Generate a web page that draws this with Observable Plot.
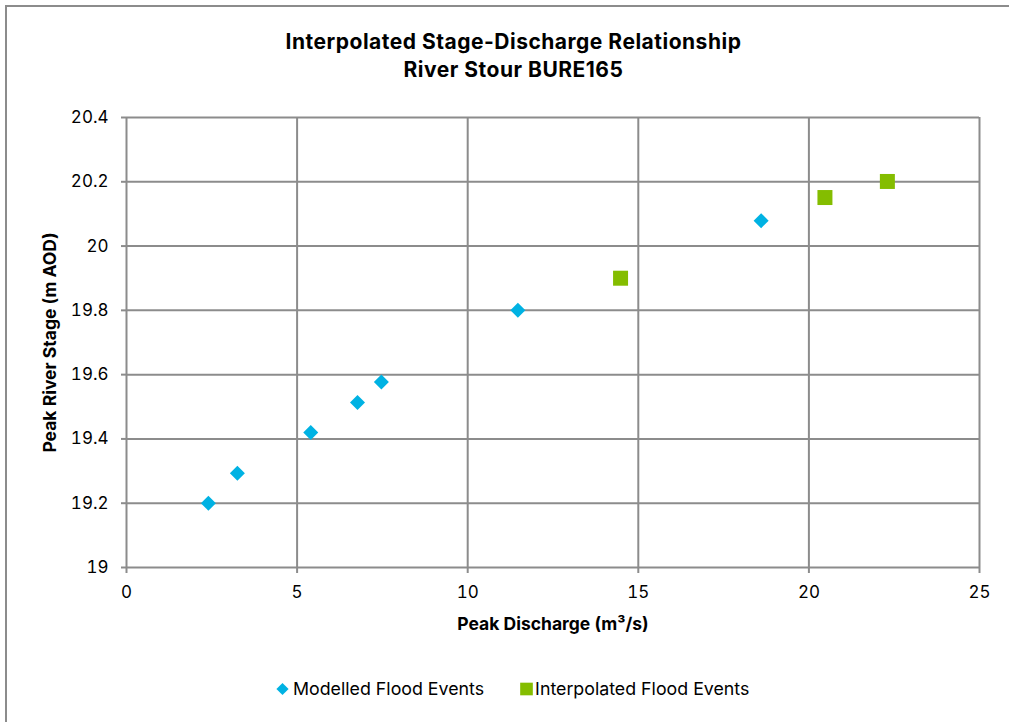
<!DOCTYPE html>
<html>
<head>
<meta charset="utf-8">
<script src="https://cdn.jsdelivr.net/npm/d3@7"></script>
<script src="https://cdn.jsdelivr.net/npm/@observablehq/plot@0.6"></script>
<style>
  html, body { margin: 0; padding: 0; background: #fff; }
  #wrap { position: relative; width: 1009px; height: 722px; overflow: hidden; font-family: Inter, "Liberation Sans", sans-serif; color: #000; }
  #border { position: absolute; left: 5px; top: 5px; width: 1040px; height: 760px; border: 2px solid #8c8c8c; box-sizing: border-box; }
  #title { position: absolute; left: 0; top: 28px; width: 1027px; text-align: center; font-weight: 700; font-size: 21px; letter-spacing: 0.5px; line-height: 28px; }
  #chart { position: absolute; left: 0; top: 0; }
  #chart svg { overflow: visible; }
  #chart g[aria-label="x-axis label"] text, #chart g[aria-label="y-axis label"] text { font-weight: 700; font-size: 17.5px; }
  #legend { position: absolute; left: 276px; top: 678px; display: flex; align-items: center; font-size: 17.8px; white-space: nowrap; }
  #legend .item { display: flex; align-items: center; }
  #legend svg { display: block; }
</style>
</head>
<body>
<div id="wrap">
  <div id="border"></div>
  <div id="title">Interpolated Stage-Discharge Relationship<br>River Stour BURE165</div>
  <div id="chart"></div>
  <div id="legend"></div>
</div>
<script>
// ---- data ----
const seriesNames = ["Modelled Flood Events", "Interpolated Flood Events"];
const modelledDischarge = [2.4, 3.25, 5.4, 6.77, 7.47, 11.47, 18.6];
const modelledStage     = [19.2, 19.293, 19.42, 19.513, 19.577, 19.8, 20.079];
const interpDischarge   = [14.48, 20.47, 22.3];
const interpStage       = [19.9, 20.151, 20.201];
const xTicks = [0, 5, 10, 15, 20, 25];
const yTicks = [19, 19.2, 19.4, 19.6, 19.8, 20, 20.2, 20.4];
const colors = ["#00b2e3", "#84bd00"];

const modelled = modelledDischarge.map((q, i) => ({q, s: modelledStage[i]}));
const interp = interpDischarge.map((q, i) => ({q, s: interpStage[i]}));

const grid = "#8c8c8c";
const chart = Plot.plot({
  width: 1009,
  height: 660,
  marginLeft: 126,
  marginRight: 30,
  marginTop: 117,
  marginBottom: 93,
  x: {domain: [0, 25]},
  y: {domain: [19, 20.4]},
  style: {fontFamily: "Inter, 'Liberation Sans', sans-serif", fontSize: "17px", color: "#000", background: "transparent"},
  marks: [
    Plot.gridX(xTicks, {stroke: grid, strokeOpacity: 1, strokeWidth: 2}),
    Plot.gridY(yTicks, {stroke: grid, strokeOpacity: 1, strokeWidth: 2}),
    Plot.axisX(xTicks, {tickSize: 6, tickPadding: 12, stroke: grid, strokeWidth: 2, tickFormat: d => String(d),
      label: "Peak Discharge (m³/s)", labelAnchor: "center", labelOffset: 62, labelArrow: "none"}),
    Plot.axisY(yTicks, {tickSize: 5, tickPadding: 13, stroke: grid, strokeWidth: 2, tickFormat: d => String(+d.toFixed(1)),
      label: "Peak River Stage (m AOD)", labelAnchor: "center", labelOffset: 83, labelArrow: "none"}),
    Plot.dot(modelled, {x: "q", y: "s", symbol: "diamond2", r: 6.76, fill: colors[0], stroke: null}),
    Plot.dot(interp, {x: "q", y: "s", symbol: "square", r: 8.46, fill: colors[1], stroke: null})
  ]
});
document.getElementById("chart").append(chart);

// ---- legend ----
const legend = d3.select("#legend");
const symbols = [d3.symbolDiamond2, d3.symbolSquare];
const sizes = [95, 160];
const gaps = ["4px", "2px"];
seriesNames.forEach((name, i) => {
  const item = legend.append("div").attr("class", "item").style("margin-right", i === 0 ? "36px" : "0");
  const sw = item.append("svg").attr("width", 13).attr("height", 14).style("margin-right", gaps[i]);
  sw.append("path").attr("transform", "translate(6.5,7)").attr("d", d3.symbol(symbols[i], sizes[i])()).attr("fill", colors[i]);
  item.append("span").text(name);
});
</script>
</body>
</html>
